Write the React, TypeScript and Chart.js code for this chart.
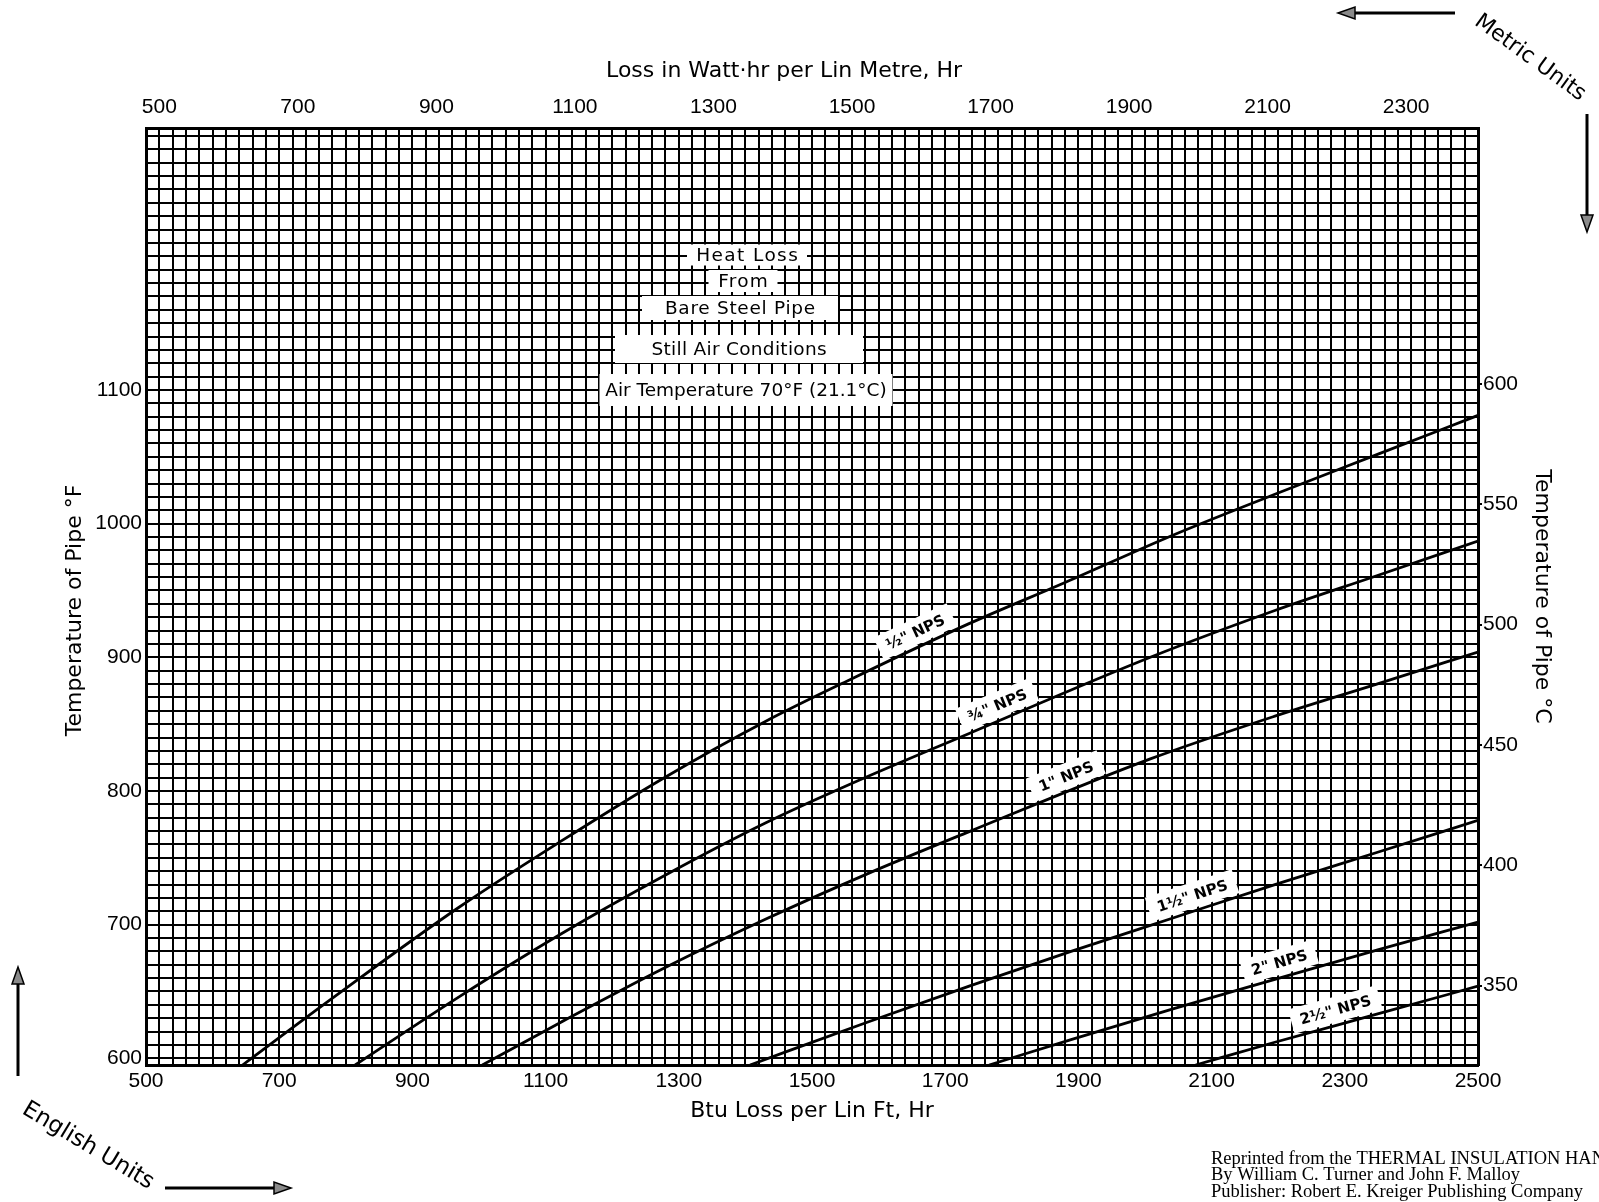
import React, { useEffect, useRef } from "react";
import { Chart, registerables } from "chart.js";

Chart.register(...registerables);

// ---------- data (Btu per lin ft·hr  vs  pipe temperature °F) ----------
const halfNpsBtu = [645, 780, 970, 1125, 1275, 1430, 1560, 1735, 1880, 2040, 2195, 2350, 2500];
const halfNpsTemp = [595, 645, 713, 763, 809, 852, 884, 925, 956, 991, 1022, 1052, 1081];

const threeQuarterNpsBtu = [814, 970, 1123, 1276, 1430, 1557, 1736, 2008, 2195, 2348, 2500];
const threeQuarterNpsTemp = [595, 646, 693, 736, 776, 805, 843, 900, 935, 961, 987];

const oneNpsBtu = [1005, 1123, 1276, 1430, 1583, 1738, 2008, 2195, 2348, 2500];
const oneNpsTemp = [595, 627, 667, 704, 738, 770, 824, 856, 880, 904];

const oneHalfNpsBtu = [1407, 1583, 1736, 1889, 2042, 2195, 2348, 2500];
const oneHalfNpsTemp = [595, 627, 654, 680, 705, 730, 754, 778];

const twoNpsBtu = [1766, 1889, 2042, 2195, 2348, 2500];
const twoNpsTemp = [595, 614, 637, 659, 681, 702];

const twoHalfNpsBtu = [2076, 2195, 2348, 2500];
const twoHalfNpsTemp = [595, 612, 633, 654];

const curveNames = ['½" NPS', '¾" NPS', '1" NPS', '1½" NPS', '2" NPS', '2½" NPS'];
const curveLabelAtBtu = [1665, 1787, 1890, 2078, 2208, 2292];

// ---------- axes ----------
const BTU_MIN = 500;
const BTU_MAX = 2500;
const F_MIN = 595;
const F_MAX = 1296;
const C_MIN = 317;
const C_MAX = 706.4;
const WATT_PER_BTU = 0.9615;

const btuTickLabels = [500, 700, 900, 1100, 1300, 1500, 1700, 1900, 2100, 2300, 2500];
const wattTickLabels = [500, 700, 900, 1100, 1300, 1500, 1700, 1900, 2100, 2300];
const fahrenheitTickLabels = [600, 700, 800, 900, 1000, 1100];
const celsiusTickLabels = [350, 400, 450, 500, 550, 600];

const BTU_GRID_STEP = 20;
const F_GRID_STEP = 10;

const btuGrid: number[] = [];
for (let v = BTU_MIN; v <= BTU_MAX; v += BTU_GRID_STEP) btuGrid.push(v);
const fahrenheitGrid: number[] = [];
for (let v = 600; v < F_MAX; v += F_GRID_STEP) fahrenheitGrid.push(v);

// ---------- annotation text ----------
const titleLines = [
  "Heat Loss",
  "From",
  "Bare Steel Pipe",
  "Still Air Conditions",
  "Air Temperature 70°F (21.1°C)",
];
const titleBoxStyles = [
  { cx: 747, cy: 255, w: 120, h: 21, ls: 1.4 },
  { cx: 743, cy: 281, w: 69, h: 22, ls: 1.2 },
  { cx: 740, cy: 308, w: 196, h: 24, ls: 0.7 },
  { cx: 739, cy: 349, w: 248, h: 28, ls: 0.3 },
  { cx: 746, cy: 390, w: 293, h: 32, ls: 0 },
];
const creditLines = [
  "Reprinted from the THERMAL INSULATION HANDBOOK",
  "By William C. Turner and John F. Malloy",
  "Publisher: Robert E. Kreiger Publishing Company",
];

// non-breaking spaces used to nudge centred axis titles as in the original print
const NB = "\u00a0";

function toPoints(xs: number[], ys: number[]) {
  return xs.map((x, i) => ({ x, y: ys[i] }));
}

function drawArrow(ctx: CanvasRenderingContext2D, x1: number, y1: number, x2: number, y2: number) {
  const ang = Math.atan2(y2 - y1, x2 - x1);
  const hl = 17;
  const hw = 6;
  const bx = x2 - hl * Math.cos(ang);
  const by = y2 - hl * Math.sin(ang);
  ctx.strokeStyle = "#000";
  ctx.lineWidth = 3;
  ctx.beginPath();
  ctx.moveTo(x1, y1);
  ctx.lineTo(bx, by);
  ctx.stroke();
  ctx.beginPath();
  ctx.moveTo(x2, y2);
  ctx.lineTo(bx - hw * Math.sin(ang), by + hw * Math.cos(ang));
  ctx.lineTo(bx + hw * Math.sin(ang), by - hw * Math.cos(ang));
  ctx.closePath();
  ctx.fillStyle = "#8a8a8a";
  ctx.fill();
  ctx.lineWidth = 1.5;
  ctx.stroke();
}

const annotationPlugin = {
  id: "heatLossAnnotations",
  beforeDatasetsDraw(chart: any) {
    const ctx: CanvasRenderingContext2D = chart.ctx;
    const xs = chart.scales.x;
    const ys = chart.scales.y;

    // title block with white backgrounds
    ctx.save();
    ctx.font = '18.5px "DejaVu Sans"';
    ctx.textAlign = "center";
    ctx.textBaseline = "middle";
    titleLines.forEach((t, i) => {
      const b = titleBoxStyles[i];
      ctx.fillStyle = "#fff";
      ctx.fillRect(b.cx - b.w / 2, b.cy - b.h / 2, b.w, b.h);
      (ctx as any).letterSpacing = `${b.ls}px`;
      ctx.fillStyle = "#000";
      ctx.fillText(t, b.cx + b.ls / 2, b.cy + 1);
    });
    (ctx as any).letterSpacing = "0px";
    ctx.restore();

    // curve labels
    chart.data.datasets.forEach((ds: any, i: number) => {
      const pts = ds.data as { x: number; y: number }[];
      const bx = curveLabelAtBtu[i];
      let k = 0;
      while (k < pts.length - 2 && pts[k + 1].x < bx) k++;
      const p0 = pts[k];
      const p1 = pts[k + 1];
      const t = (bx - p0.x) / (p1.x - p0.x);
      const temp = p0.y + t * (p1.y - p0.y);
      const px = xs.getPixelForValue(bx);
      const py = ys.getPixelForValue(temp);
      const ang = Math.atan2(
        ys.getPixelForValue(p1.y) - ys.getPixelForValue(p0.y),
        xs.getPixelForValue(p1.x) - xs.getPixelForValue(p0.x)
      );
      ctx.save();
      ctx.translate(px, py);
      ctx.rotate(ang);
      ctx.font = 'bold 15px "DejaVu Sans"';
      const w = ctx.measureText(curveNames[i]).width;
      ctx.fillStyle = "#fff";
      ctx.fillRect(-w / 2 - 9, -28, w + 18, 25);
      ctx.fillStyle = "#000";
      ctx.textAlign = "center";
      ctx.textBaseline = "middle";
      ctx.fillText(curveNames[i], 0, -14);
      ctx.restore();
    });
  },
  afterDraw(chart: any) {
    const ctx: CanvasRenderingContext2D = chart.ctx;
    ctx.save();
    // unit captions
    ctx.fillStyle = "#000";
    ctx.textAlign = "center";
    ctx.textBaseline = "middle";
    ctx.save();
    ctx.translate(1530, 58);
    ctx.rotate((36 * Math.PI) / 180);
    ctx.font = '22px "DejaVu Sans"';
    ctx.fillText("Metric Units", 0, 0);
    ctx.restore();
    ctx.save();
    ctx.translate(88, 1146);
    ctx.rotate((31 * Math.PI) / 180);
    ctx.font = '23px "DejaVu Sans"';
    ctx.fillText("English Units", 0, 0);
    ctx.restore();

    // arrows
    drawArrow(ctx, 1455, 13, 1338, 13);
    drawArrow(ctx, 1587, 114, 1587, 232);
    drawArrow(ctx, 18, 1076, 18, 967);
    drawArrow(ctx, 165, 1188, 291, 1188);

    // credit note
    ctx.font = '18.5px "Liberation Serif"';
    ctx.textAlign = "left";
    ctx.fillStyle = "#000";
    creditLines.forEach((line, i) => {
      ctx.fillText(line, 1211, 1159 + i * 16.5);
    });
    ctx.restore();
  },
};

const tickFont = { family: "Liberation Sans", size: 21 };
const titleFont = { family: "DejaVu Sans", size: 22 };

export default function App() {
  const canvasRef = useRef<HTMLCanvasElement>(null);

  useEffect(() => {
    const canvas = canvasRef.current;
    if (!canvas) return;
    const lineStyle = {
      borderColor: "#000",
      borderWidth: 2.8,
      pointRadius: 0,
      fill: false,
      cubicInterpolationMode: "monotone" as const,
    };
    const chart = new Chart(canvas, {
      type: "line",
      data: {
        datasets: [
          { label: curveNames[0], data: toPoints(halfNpsBtu, halfNpsTemp), ...lineStyle },
          { label: curveNames[1], data: toPoints(threeQuarterNpsBtu, threeQuarterNpsTemp), ...lineStyle },
          { label: curveNames[2], data: toPoints(oneNpsBtu, oneNpsTemp), ...lineStyle },
          { label: curveNames[3], data: toPoints(oneHalfNpsBtu, oneHalfNpsTemp), ...lineStyle },
          { label: curveNames[4], data: toPoints(twoNpsBtu, twoNpsTemp), ...lineStyle },
          { label: curveNames[5], data: toPoints(twoHalfNpsBtu, twoHalfNpsTemp), ...lineStyle },
        ],
      },
      options: {
        responsive: false,
        animation: false,
        devicePixelRatio: 1,
        layout: { padding: 0 },
        plugins: {
          legend: { display: false },
          tooltip: { enabled: false },
        },
        scales: {
          x: {
            type: "linear",
            position: "bottom",
            min: BTU_MIN,
            max: BTU_MAX,
            afterFit: (s: any) => {
              s.height = 137;
            },
            afterBuildTicks: (s: any) => {
              s.ticks = btuGrid.map((v) => ({ value: v }));
            },
            grid: { color: "#000", lineWidth: 2, drawTicks: false },
            border: { display: true, color: "#000", width: 3 },
            ticks: {
              autoSkip: false,
              maxRotation: 0,
              padding: 4,
              color: "#000",
              font: tickFont,
              callback: (v: any) => (btuTickLabels.includes(Number(v)) ? String(v) : ""),
            },
            title: {
              display: true,
              text: "Btu Loss per Lin Ft, Hr",
              color: "#000",
              font: titleFont,
              padding: { top: 0, bottom: 78 },
            },
          },
          xTop: {
            type: "linear",
            position: "top",
            min: BTU_MIN * WATT_PER_BTU,
            max: BTU_MAX * WATT_PER_BTU,
            afterFit: (s: any) => {
              s.height = 128;
            },
            afterBuildTicks: (s: any) => {
              s.ticks = wattTickLabels.map((v) => ({ value: v }));
            },
            grid: { display: false, drawTicks: false, tickLength: 0 },
            border: { display: true, color: "#000", width: 3 },
            ticks: {
              autoSkip: false,
              maxRotation: 0,
              padding: 8,
              color: "#000",
              font: tickFont,
              callback: (v: any) => String(v),
            },
            title: {
              display: true,
              text: "Loss in Watt·hr per Lin Metre, Hr" + NB.repeat(8),
              color: "#000",
              font: titleFont,
              padding: { top: 58, bottom: 0 },
            },
          },
          y: {
            type: "linear",
            position: "left",
            min: F_MIN,
            max: F_MAX,
            afterFit: (s: any) => {
              s.width = 146;
            },
            afterBuildTicks: (s: any) => {
              s.ticks = fahrenheitGrid.map((v) => ({ value: v }));
            },
            grid: { color: "#000", lineWidth: 2, drawTicks: false },
            border: { display: true, color: "#000", width: 3 },
            ticks: {
              autoSkip: false,
              padding: 4,
              color: "#000",
              font: tickFont,
              callback: (v: any) => (fahrenheitTickLabels.includes(Number(v)) ? String(v) : ""),
            },
            title: {
              display: true,
              text: "Temperature of Pipe °F" + NB.repeat(4),
              color: "#000",
              font: titleFont,
              padding: { top: 62, bottom: 0 },
            },
          },
          yRight: {
            type: "linear",
            position: "right",
            min: C_MIN,
            max: C_MAX,
            afterFit: (s: any) => {
              s.width = 121;
            },
            afterBuildTicks: (s: any) => {
              s.ticks = celsiusTickLabels.map((v) => ({ value: v }));
            },
            grid: {
              display: true,
              drawOnChartArea: false,
              drawTicks: true,
              tickLength: 4,
              color: "#000",
              lineWidth: 2,
            },
            border: { display: true, color: "#000", width: 3 },
            ticks: {
              autoSkip: false,
              padding: 1,
              color: "#000",
              font: tickFont,
              callback: (v: any) => String(v),
            },
            title: {
              display: true,
              text: "Temperature of Pipe °C",
              color: "#000",
              font: titleFont,
              padding: { top: 44, bottom: 0 },
            },
          },
        },
      } as any,
      plugins: [annotationPlugin],
    });
    return () => chart.destroy();
  }, []);

  return (
    <div style={{ position: "fixed", left: 0, top: 0, width: 1599, height: 1202, background: "#fff" }}>
      <canvas ref={canvasRef} width={1599} height={1202} style={{ display: "block", width: 1599, height: 1202 }} />
    </div>
  );
}
